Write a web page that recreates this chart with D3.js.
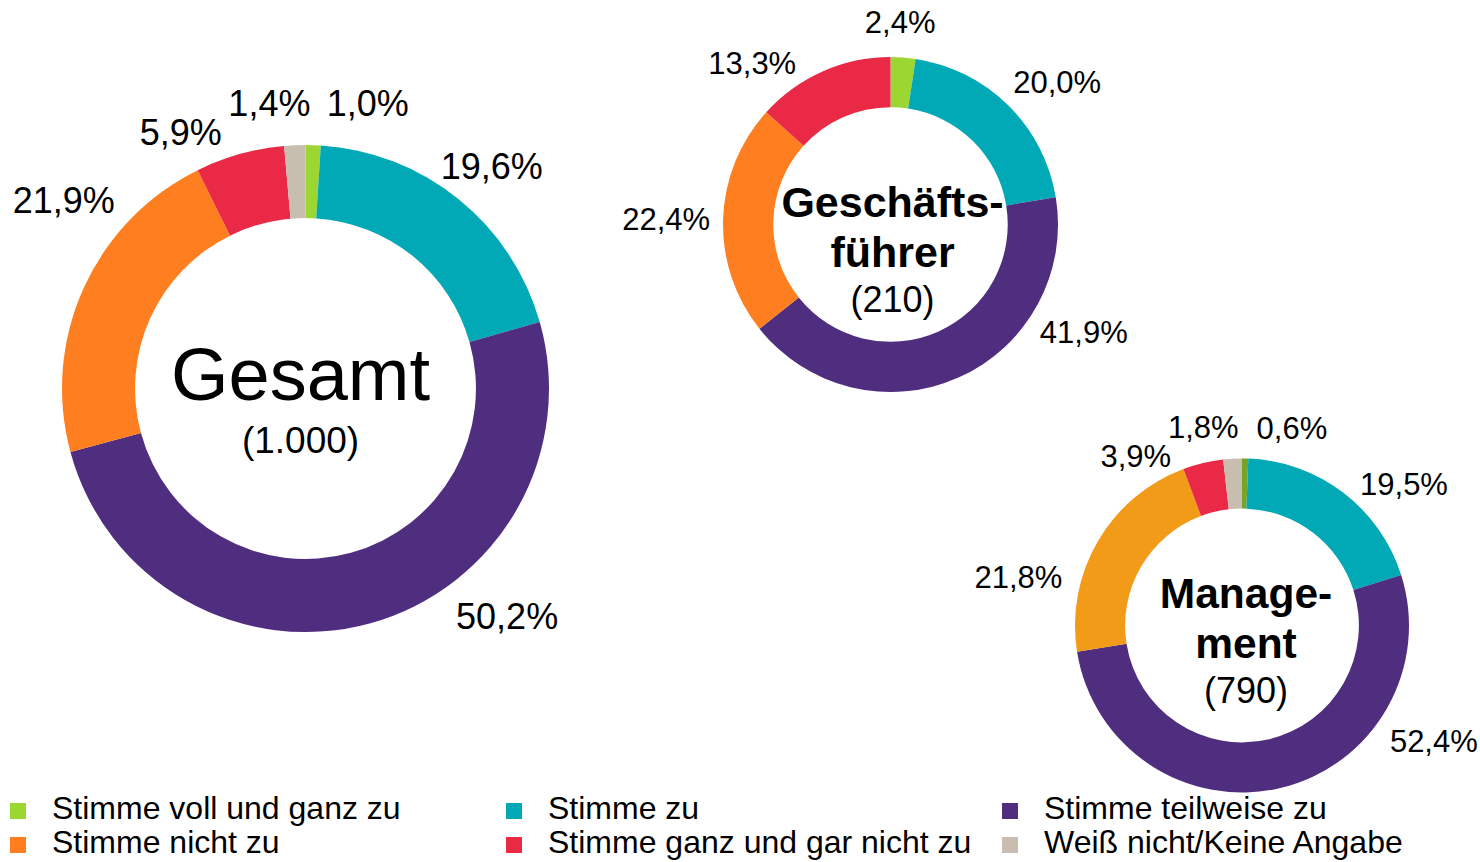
<!DOCTYPE html>
<html>
<head>
<meta charset="utf-8">
<script src="https://cdn.jsdelivr.net/npm/d3@7"></script>
<style>
  html, body { margin: 0; padding: 0; background: #fff; }
  svg { display: block; font-family: "Liberation Sans", Arial, sans-serif; }
</style>
</head>
<body>
<svg id="chart" width="1480" height="862"></svg>
<script>
// ---------- DATA ----------
const categories = [
  "Stimme voll und ganz zu",
  "Stimme zu",
  "Stimme teilweise zu",
  "Stimme nicht zu",
  "Stimme ganz und gar nicht zu",
  "Weiß nicht/Keine Angabe"
];
const gesamtValues = [1.0, 19.6, 50.2, 21.9, 5.9, 1.4];
const gfValues     = [2.4, 20.0, 41.9, 22.4, 13.3, 0];
const mgmtValues   = [0.6, 19.5, 52.4, 21.8, 3.9, 1.8];

const chartTitles = [
  { lines: ["Gesamt"], n: "(1.000)" },
  { lines: ["Geschäfts-", "führer"], n: "(210)" },
  { lines: ["Manage-", "ment"], n: "(790)" }
];

// ---------- STYLE / LAYOUT ----------
const baseColors = ["#9BD632", "#00A9B5", "#4F2D7F", "#FF7F20", "#E92945", "#C8BEAF"];
const mgmtColors = ["#78A32A", "#00A9B5", "#4F2D7F", "#F29B18", "#E92945", "#C8BEAF"];

const charts = [
  { values: gesamtValues, colors: baseColors, cx: 305.5, cy: 388.5, r: 243.5, inner: 0.70,
    labelSize: 36, titleSize: 74, titleBold: false, nSize: 37, titleDx: -5,
    titleDy: [11.5], nDy: 64,
    labelShift: [10.5, 1.1, -26, 13.7, -10.3, -4.7],
    labelDist:  [1.20, 1.19, 1.25, 1.26, 1.17, 1.18] },
  { values: gfValues, colors: baseColors, cx: 890.5, cy: 224.5, r: 167.5, inner: 0.70,
    labelSize: 31, titleSize: 43, titleBold: true, nSize: 36, titleDx: 2,
    titleDy: [-7.5, 42.5], nDy: 87.5,
    labelShift: [-1.6, 4.8, -37, -0.4, -16.6, 0],
    labelDist:  [1.21, 1.31, 1.32, 1.34, 1.27, 1.2] },
  { values: mgmtValues, colors: mgmtColors, cx: 1242, cy: 625.5, r: 167, inner: 0.70,
    labelSize: 31, titleSize: 42.5, titleBold: true, nSize: 36, titleDx: 4,
    titleDy: [-18, 32], nDy: 77,
    labelShift: [13.1, 11.5, -45.7, -18, -18.5, -7.8],
    labelDist:  [1.22, 1.29, 1.34, 1.37, 1.20, 1.21] }
];

const svg = d3.select("#chart");
const fmt = v => d3.format(".1f")(v).replace(".", ",") + "%";
const pie = d3.pie().sort(null).value(d => d);

charts.forEach((c, ci) => {
  const g = svg.append("g").attr("transform", `translate(${c.cx},${c.cy})`);
  const arc = d3.arc().innerRadius(c.r * c.inner).outerRadius(c.r);
  const arcs = pie(c.values);

  g.selectAll("path.slice")
    .data(arcs.filter(d => d.value > 0))
    .join("path")
    .attr("class", "slice")
    .attr("d", arc)
    .attr("fill", d => c.colors[d.index]);

  const labelAngle = d => (d.startAngle + d.endAngle) / 2 + c.labelShift[d.index] * Math.PI / 180;

  g.selectAll("text.lbl")
    .data(arcs.filter(d => d.value > 0))
    .join("text")
    .attr("class", "lbl")
    .attr("text-anchor", "middle")
    .attr("dy", "0.36em")
    .attr("font-size", c.labelSize)
    .attr("fill", "#000")
    .attr("x", d => Math.sin(labelAngle(d)) * c.r * c.labelDist[d.index])
    .attr("y", d => -Math.cos(labelAngle(d)) * c.r * c.labelDist[d.index])
    .text(d => fmt(d.value));

  const t = chartTitles[ci];
  t.lines.forEach((line, li) => {
    g.append("text")
      .attr("text-anchor", "middle")
      .attr("x", c.titleDx)
      .attr("y", c.titleDy[li])
      .attr("font-size", c.titleSize)
      .attr("font-weight", c.titleBold ? "bold" : "normal")
      .attr("fill", "#000")
      .text(line);
  });
  g.append("text")
    .attr("text-anchor", "middle")
    .attr("x", c.titleDx)
    .attr("y", c.nDy)
    .attr("font-size", c.nSize)
    .attr("fill", "#000")
    .text(t.n);
});

// ---------- LEGEND ----------
const legendCols = 3;
const colX = d3.scalePoint().domain(d3.range(legendCols)).range([10, 1002]);
const rowY = d3.scalePoint().domain([0, 1]).range([819, 853]);
const items = svg.append("g").selectAll("g.item")
  .data(categories)
  .join("g")
  .attr("class", "item")
  .attr("transform", (d, i) => `translate(${colX(i % legendCols)},${rowY(Math.floor(i / legendCols))})`);
items.append("rect")
  .attr("x", 0).attr("y", -16)
  .attr("width", 16).attr("height", 16)
  .attr("fill", (d, i) => baseColors[i]);
items.append("text")
  .attr("x", 42).attr("y", 0)
  .attr("font-size", 32)
  .attr("fill", "#000")
  .text(d => d);
</script>
</body>
</html>
